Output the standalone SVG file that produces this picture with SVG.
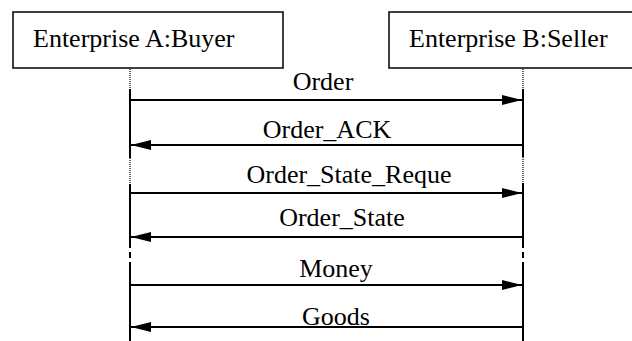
<svg xmlns="http://www.w3.org/2000/svg" width="632" height="341" viewBox="0 0 632 341">
  <defs>
    <style>
      .box { fill: #fff; stroke: #000; stroke-width: 1.5; }
      .lbl { font-family: 'Liberation Serif', Tinos, 'Times New Roman', Times, 'Nimbus Roman', 'Nimbus Roman No9 L', FreeSerif, 'Noto Serif', 'DejaVu Serif', serif; font-size: 26px; fill: #000; }
      .life { stroke: #000; stroke-width: 2; fill: none; }
      .dot { stroke: #000; stroke-width: 1.2; stroke-dasharray: 1 1; fill: none; }
      .msg { stroke: #000; stroke-width: 2; fill: none; }
    </style>
    <marker id="head" viewBox="0 0 20 10" refX="20" refY="5" markerWidth="20" markerHeight="10" markerUnits="userSpaceOnUse" orient="auto">
      <path d="M0,0 L20,5 L0,10 Z" fill="#000"/>
    </marker>
  </defs>
  <rect width="632" height="341" fill="#fff"/>

  <g id="buyer">
    <rect class="box" x="13" y="12" width="270" height="56"/>
    <text class="lbl" x="33" y="47">Enterprise A:Buyer</text>
  </g>
  <g id="seller">
    <rect class="box" x="389" y="12" width="260" height="56"/>
    <text class="lbl" x="409" y="47">Enterprise B:Seller</text>
  </g>

  <g id="lifelines">
    <!-- buyer lifeline -->
    <line class="dot" x1="130" y1="69" x2="130" y2="89"/>
    <line class="life" x1="130" y1="89" x2="130" y2="158"/>
    <line class="dot" x1="130" y1="158" x2="130" y2="184"/>
    <line class="life" x1="130" y1="184" x2="130" y2="248"/>
    <line class="life" x1="130" y1="252" x2="130" y2="258"/>
    <line class="life" x1="130" y1="262" x2="130" y2="341"/>
    <!-- seller lifeline -->
    <line class="dot" x1="523" y1="69" x2="523" y2="89"/>
    <line class="life" x1="523" y1="89" x2="523" y2="157"/>
    <line class="dot" x1="523" y1="157" x2="523" y2="183"/>
    <line class="life" x1="523" y1="183" x2="523" y2="248"/>
    <line class="life" x1="523" y1="252" x2="523" y2="258"/>
    <line class="life" x1="523" y1="262" x2="523" y2="341"/>
  </g>

  <g id="connectors">
    <line class="msg" x1="130" y1="100" x2="522" y2="100" marker-end="url(#head)"/>
    <line class="msg" x1="523" y1="145" x2="131" y2="145" marker-end="url(#head)"/>
    <line class="msg" x1="130" y1="193" x2="522" y2="193" marker-end="url(#head)"/>
    <line class="msg" x1="523" y1="237" x2="131" y2="237" marker-end="url(#head)"/>
    <line class="msg" x1="130" y1="285" x2="522" y2="285" marker-end="url(#head)"/>
    <line class="msg" x1="523" y1="327" x2="131" y2="327" marker-end="url(#head)"/>
  </g>

  <g id="labels" text-anchor="middle">
    <text class="lbl" x="323" y="90">Order</text>
    <text class="lbl" x="327" y="138">Order_ACK</text>
    <text class="lbl" x="349" y="183">Order_State_Reque</text>
    <text class="lbl" x="342" y="226">Order_State</text>
    <text class="lbl" x="336" y="277">Money</text>
    <text class="lbl" x="336" y="325">Goods</text>
  </g>
</svg>
